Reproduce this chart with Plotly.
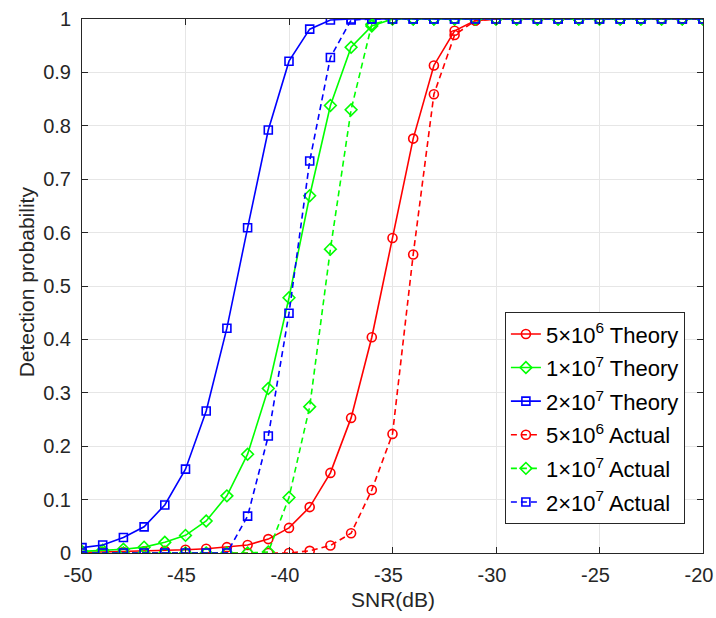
import plotly.graph_objects as go

snr = list(range(-50, -19))

red_theory = [0.001, 0.002, 0.002, 0.003, 0.004, 0.006, 0.008, 0.011, 0.015, 0.026,
              0.047, 0.086, 0.150, 0.253, 0.404, 0.590, 0.776, 0.913, 0.978, 0.997,
              1, 1, 1, 1, 1, 1, 1, 1, 1, 1, 1]
green_theory = [0.003, 0.005, 0.007, 0.011, 0.020, 0.033, 0.060, 0.107, 0.185, 0.308,
                0.478, 0.669, 0.838, 0.947, 0.987, 1, 1, 1, 1, 1,
                1, 1, 1, 1, 1, 1, 1, 1, 1, 1, 1]
blue_theory = [0.010, 0.015, 0.029, 0.049, 0.090, 0.157, 0.266, 0.421, 0.609, 0.792,
               0.921, 0.981, 0.998, 1, 1, 1, 1, 1, 1, 1,
               1, 1, 1, 1, 1, 1, 1, 1, 1, 1, 1]
red_actual = [0, 0, 0, 0, 0, 0, 0, 0, 0, 0,
              0.0, 0.004, 0.014, 0.037, 0.118, 0.223, 0.559, 0.859, 0.970, 0.997,
              1, 1, 1, 1, 1, 1, 1, 1, 1, 1, 1]
green_actual = [0, 0, 0, 0, 0, 0, 0, 0, 0, 0.002,
                0.104, 0.274, 0.569, 0.830, 0.990, 1, 1, 1, 1, 1,
                1, 1, 1, 1, 1, 1, 1, 1, 1, 1, 1]
blue_actual = [0, 0, 0, 0, 0, 0, 0, 0, 0.069, 0.219,
               0.449, 0.734, 0.928, 0.998, 1, 1, 1, 1, 1, 1,
               1, 1, 1, 1, 1, 1, 1, 1, 1, 1, 1]

x_ticks = [-50, -45, -40, -35, -30, -25, -20]
x_ticktext = ["-50", "-45", "-40", "-35", "-30", "-25", "-20"]
y_ticks = [0, 0.1, 0.2, 0.3, 0.4, 0.5, 0.6, 0.7, 0.8, 0.9, 1]
y_ticktext = ["0", "0.1", "0.2", "0.3", "0.4", "0.5", "0.6", "0.7", "0.8", "0.9", "1"]

names = ["5×10<sup>6</sup> Theory", "1×10<sup>7</sup> Theory", "2×10<sup>7</sup> Theory",
         "5×10<sup>6</sup> Actual", "1×10<sup>7</sup> Actual", "2×10<sup>7</sup> Actual"]
series = [red_theory, green_theory, blue_theory, red_actual, green_actual, blue_actual]
colors = ["#FF0000", "#00FF00", "#0000FF", "#FF0000", "#00FF00", "#0000FF"]
symbols = ["circle-open", "diamond-open", "square-open"] * 2
dashes = ["solid"] * 3 + ["6px,4px"] * 3

fig = go.Figure()
for i, (n, ys, c, s, d) in enumerate(zip(names, series, colors, symbols, dashes)):
    fig.add_trace(go.Scatter(
        x=snr, y=ys, name=n, mode="lines+markers", legendgroup=f"g{i}",
        line=dict(color=c, width=1.6, dash=d),
        marker=dict(symbol=s, size=9 if s != "square-open" else 8,
                    line=dict(color=c, width=1.6), color=c),
    ))

font_family = "Liberation Sans"
axis_common = dict(
    showline=True, linecolor="#262626", linewidth=1, mirror="ticks",
    ticks="inside", ticklen=6, tickcolor="#262626",
    showgrid=True, gridcolor="#E6E6E6", gridwidth=1, zeroline=False,
    tickfont=dict(family=font_family, size=20, color="#262626"),
    automargin=False, ticklabeloverflow="allow",
)
fig.update_xaxes(range=[-50, -20], tickvals=x_ticks, ticktext=x_ticktext,
                 ticklabelstandoff=4, ticklabelshift=-4, **axis_common)
fig.update_yaxes(range=[0, 1], tickvals=y_ticks, ticktext=y_ticktext,
                 ticklabelstandoff=6, **axis_common)

fig.add_annotation(text="SNR(dB)", xref="paper", yref="paper", x=0.5, y=-0.088,
                   xanchor="center", yanchor="middle", showarrow=False,
                   font=dict(family=font_family, size=21, color="#262626"))
fig.add_annotation(text="Detection probability", xref="paper", yref="paper",
                   x=-0.090, y=0.507, xanchor="center", yanchor="middle",
                   textangle=-90, showarrow=False,
                   font=dict(family=font_family, size=21, color="#262626"))

fig.update_layout(
    width=716, height=618,
    margin=dict(l=82, r=13, t=19, b=65),
    plot_bgcolor="white", paper_bgcolor="white",
    font=dict(family=font_family, color="#262626"),
    legend=dict(x=0.681, y=0.451, xanchor="left", yanchor="top",
                bgcolor="white", bordercolor="#262626", borderwidth=1,
                font=dict(family=font_family, size=22, color="#000000"),
                tracegroupgap=2, itemwidth=30),
    showlegend=True,
)

# remove the default page margin so the figure fills the 716x618 window exactly
fig.write_html("out.html", config={"displayModeBar": False},
               post_script="document.body.style.margin='0';document.body.style.overflow='hidden';")
